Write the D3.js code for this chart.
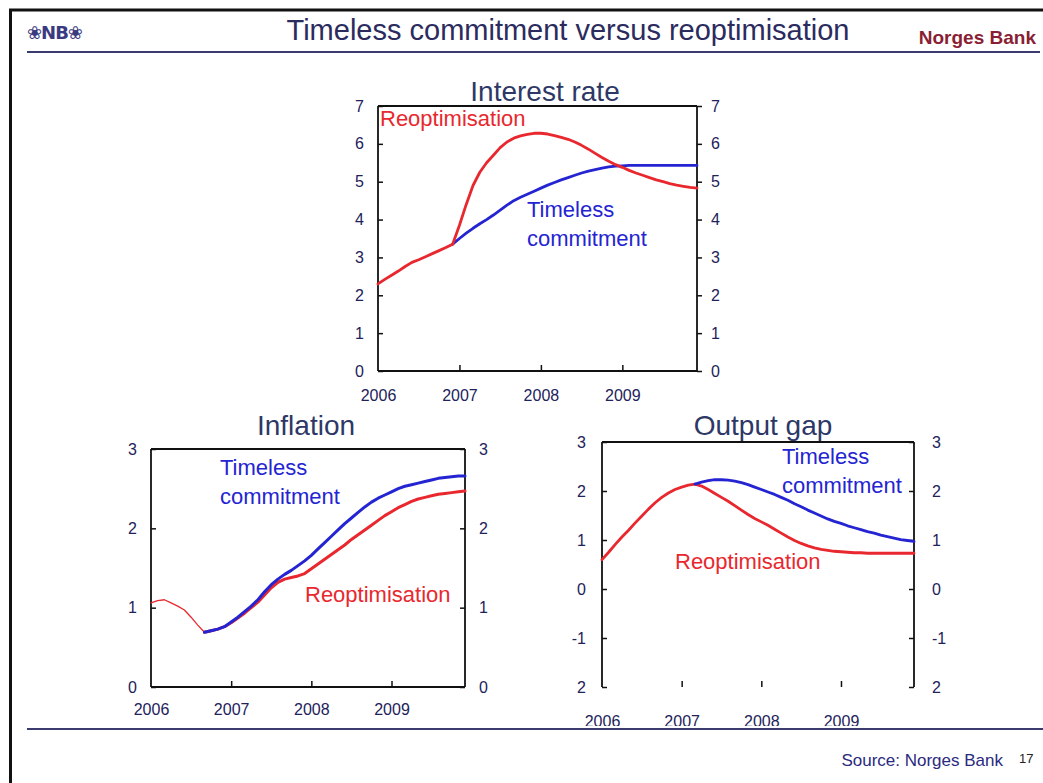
<!DOCTYPE html>
<html><head><meta charset="utf-8">
<script src="https://cdn.jsdelivr.net/npm/d3@7"></script>
<style>
html,body{margin:0;padding:0;background:#fff;}
svg{display:block;font-family:"Liberation Sans",Arial,sans-serif;}
</style></head>
<body>
<script>
// ---- data (monthly, Jan 2006 .. Dec 2009; index 0..47) ----
const years = ["2006","2007","2008","2009"];
const yearMonths = [0,12,24,36];

const rateReopt = [2.30,2.42,2.53,2.64,2.76,2.87,2.94,3.02,3.10,3.18,3.26,3.35,
  3.85,4.40,4.90,5.25,5.50,5.70,5.90,6.05,6.15,6.21,6.25,6.28,
  6.28,6.26,6.22,6.17,6.12,6.05,5.96,5.86,5.75,5.64,5.54,5.45,
  5.38,5.30,5.23,5.17,5.11,5.05,5.00,4.95,4.91,4.88,4.85,4.83];
const rateTimeless = [null,null,null,null,null,null,null,null,null,null,null,3.35,
  3.50,3.64,3.77,3.89,4.00,4.12,4.25,4.38,4.50,4.59,4.67,4.75,
  4.83,4.91,4.98,5.05,5.11,5.17,5.23,5.28,5.32,5.36,5.39,5.41,
  5.42,5.43,5.43,5.43,5.43,5.43,5.43,5.43,5.43,5.43,5.43,5.43];

const inflHistory = [1.06,1.09,1.10,1.06,1.02,0.97,0.88,0.78,0.69];
const inflReopt = [null,null,null,null,null,null,null,null,0.69,0.71,0.73,0.76,
  0.81,0.87,0.93,1.00,1.07,1.16,1.25,1.32,1.36,1.38,1.40,1.43,
  1.49,1.55,1.61,1.67,1.73,1.79,1.86,1.92,1.98,2.04,2.10,2.16,
  2.21,2.26,2.30,2.34,2.37,2.39,2.41,2.43,2.44,2.45,2.46,2.47];
const inflTimeless = [null,null,null,null,null,null,null,null,0.69,0.71,0.73,0.76,
  0.82,0.88,0.95,1.02,1.10,1.20,1.29,1.36,1.42,1.47,1.53,1.59,
  1.66,1.74,1.82,1.90,1.98,2.06,2.13,2.20,2.27,2.33,2.38,2.42,
  2.46,2.50,2.53,2.55,2.57,2.59,2.61,2.63,2.64,2.65,2.66,2.66];

const gapReopt = [0.60,0.75,0.91,1.06,1.20,1.35,1.49,1.63,1.76,1.87,1.96,2.03,
  2.08,2.12,2.14,2.10,2.03,1.95,1.87,1.79,1.70,1.61,1.52,1.44,
  1.37,1.30,1.22,1.14,1.06,0.99,0.93,0.88,0.84,0.81,0.79,0.77,
  0.76,0.75,0.74,0.74,0.73,0.73,0.73,0.73,0.73,0.73,0.73,0.73];
const gapTimeless = [null,null,null,null,null,null,null,null,null,null,null,null,
  null,null,2.14,2.18,2.21,2.23,2.23,2.22,2.20,2.17,2.13,2.08,
  2.03,1.98,1.93,1.87,1.81,1.74,1.68,1.61,1.55,1.49,1.43,1.38,
  1.34,1.29,1.25,1.21,1.17,1.14,1.10,1.07,1.04,1.01,0.99,0.97];

const rateTicks = [0,1,2,3,4,5,6,7];
const inflTicks = [0,1,2,3];
const gapTicks = [-2,-1,0,1,2,3];
const gapTickLabels = ["2","-1","0","1","2","3"];

const RED = "#e8282e", BLUE = "#2424d2", NAVY = "#2b2b5e", TXT = "#22225a";

const W = 1043, H = 783;
const svg = d3.select("body").append("svg").attr("width", W).attr("height", H);

// slide frame
svg.append("rect").attr("x",0).attr("y",0).attr("width",W).attr("height",H).attr("fill","#fff");
svg.append("line").attr("x1",9).attr("x2",W).attr("y1",10).attr("y2",10).attr("stroke","#111").attr("stroke-width",3);
svg.append("line").attr("x1",10.5).attr("x2",10.5).attr("y1",9).attr("y2",H).attr("stroke","#111").attr("stroke-width",3);

// header
svg.append("text").attr("x",27).attr("y",39).attr("font-size",18).attr("font-weight","bold")
  .attr("fill","#3a3a80").attr("font-family","DejaVu Sans").attr("letter-spacing",-1).text("❀NB❀");
svg.append("text").attr("x",568).attr("y",40).attr("text-anchor","middle").attr("font-size",29)
  .attr("fill",NAVY).text("Timeless commitment versus reoptimisation");
svg.append("text").attr("x",1036).attr("y",44).attr("text-anchor","end").attr("font-size",19)
  .attr("font-weight","bold").attr("fill","#8a1e34").text("Norges Bank");
svg.append("line").attr("x1",27).attr("x2",1040).attr("y1",52).attr("y2",52).attr("stroke","#3b3b6e").attr("stroke-width",2);

// footer
svg.append("line").attr("x1",27).attr("x2",1043).attr("y1",729).attr("y2",729).attr("stroke","#3b3b6e").attr("stroke-width",2);
svg.append("text").attr("x",1003).attr("y",766).attr("text-anchor","end").attr("font-size",17)
  .attr("fill","#2a2a80").text("Source: Norges Bank");
svg.append("text").attr("x",1019).attr("y",763).attr("font-size",13).attr("fill","#222").text("17");

function panel(cfg){
  const x = d3.scaleLinear().domain([0,47]).range([cfg.left,cfg.right]);
  const y = d3.scaleLinear().domain(cfg.ydom).range([cfg.bottom,cfg.top]);
  const g = svg.append("g");
  if (cfg.clip){
    const id = "clip"+Math.round(cfg.left);
    svg.append("clipPath").attr("id",id).append("rect").attr("x",0).attr("y",0).attr("width",W).attr("height",cfg.clip);
    g.attr("clip-path","url(#"+id+")");
  }
  // title
  g.append("text").attr("x",cfg.titleX).attr("y",cfg.titleY).attr("text-anchor","middle")
    .attr("font-size",28).attr("fill","#2e3866").text(cfg.title);
  // frame
  const fr = g.append("g").attr("stroke","#111").attr("stroke-width",1.8).attr("fill","none");
  fr.append("line").attr("x1",cfg.left).attr("x2",cfg.right).attr("y1",cfg.top).attr("y2",cfg.top);
  fr.append("line").attr("x1",cfg.left).attr("x2",cfg.left).attr("y1",cfg.top).attr("y2",cfg.bottom);
  fr.append("line").attr("x1",cfg.right).attr("x2",cfg.right).attr("y1",cfg.top).attr("y2",cfg.bottom);
  if (cfg.bottomLine) fr.append("line").attr("x1",cfg.left).attr("x2",cfg.right).attr("y1",cfg.bottom).attr("y2",cfg.bottom);

  const fmt = cfg.tickLabels ? (d,i)=>cfg.tickLabels[i] : d3.format("d");
  const yl = g.append("g").attr("transform","translate("+cfg.left+",0)")
    .call(d3.axisLeft(y).tickValues(cfg.yticks).tickSize(0).tickPadding(cfg.padL).tickFormat(fmt));
  const yr = g.append("g").attr("transform","translate("+cfg.right+",0)")
    .call(d3.axisRight(y).tickValues(cfg.yticks).tickSize(0).tickPadding(cfg.padR).tickFormat(fmt));
  const xb = g.append("g").attr("transform","translate(0,"+cfg.bottom+")")
    .call(d3.axisBottom(x).tickValues(yearMonths).tickSize(-6).tickPadding(cfg.xPad).tickFormat((d,i)=>years[i]));
  [yl,yr,xb].forEach(a=>{
    a.select(".domain").remove();
    a.selectAll("line").attr("stroke","#111").attr("stroke-width",1.5);
    a.selectAll("text").attr("fill",TXT).attr("font-size",16).attr("font-family","Liberation Sans, Arial, sans-serif");
  });
  xb.selectAll(".tick").filter(d=>d===0).select("line").remove();
  yl.selectAll(".tick line").attr("x2",5);
  yr.selectAll(".tick line").attr("x2",cfg.rightOut ? 5 : -5);

  const line = d3.line().defined(d=>d!=null).x((d,i)=>x(i)).y(d=>y(d));
  cfg.series.forEach(s=>{
    g.append("path").attr("d",line(s.data)).attr("fill","none").attr("stroke",s.color)
      .attr("stroke-width",s.w).attr("stroke-linejoin","round").attr("stroke-linecap","round");
  });
  cfg.labels.forEach(l=>{
    g.append("text").attr("x",l.x).attr("y",l.y).attr("font-size",22).attr("fill",l.color).text(l.t);
  });
}

panel({title:"Interest rate", titleX:545, titleY:101,
  left:378, right:697, top:106, bottom:371, ydom:[0,7], yticks:rateTicks,
  padL:14, padR:14, rightOut:true, xPad:19, bottomLine:true,
  series:[{data:rateTimeless,color:BLUE,w:2.8},{data:rateReopt,color:RED,w:2.8}],
  labels:[{x:380,y:126,t:"Reoptimisation",color:RED},
          {x:527,y:217,t:"Timeless",color:BLUE},{x:527,y:246,t:"commitment",color:BLUE}]});

panel({title:"Inflation", titleX:306, titleY:435,
  left:151, right:465, top:449, bottom:687, ydom:[0,3], yticks:inflTicks,
  padL:14, padR:14, rightOut:false, xPad:17, bottomLine:true,
  series:[{data:inflHistory,color:RED,w:1.3},{data:inflReopt,color:RED,w:3},{data:inflTimeless,color:BLUE,w:3}],
  labels:[{x:220,y:475,t:"Timeless",color:BLUE},{x:220,y:504,t:"commitment",color:BLUE},
          {x:305,y:602,t:"Reoptimisation",color:RED}]});

panel({title:"Output gap", titleX:763, titleY:435,
  left:602, right:914, top:442, bottom:687, ydom:[-2,3], yticks:gapTicks, tickLabels:gapTickLabels,
  padL:16, padR:18, rightOut:false, xPad:29, bottomLine:false, clip:726,
  series:[{data:gapReopt,color:RED,w:2.8},{data:gapTimeless,color:BLUE,w:2.8}],
  labels:[{x:782,y:464,t:"Timeless",color:BLUE},{x:782,y:493,t:"commitment",color:BLUE},
          {x:675,y:569,t:"Reoptimisation",color:RED}]});
</script>
</body></html>
